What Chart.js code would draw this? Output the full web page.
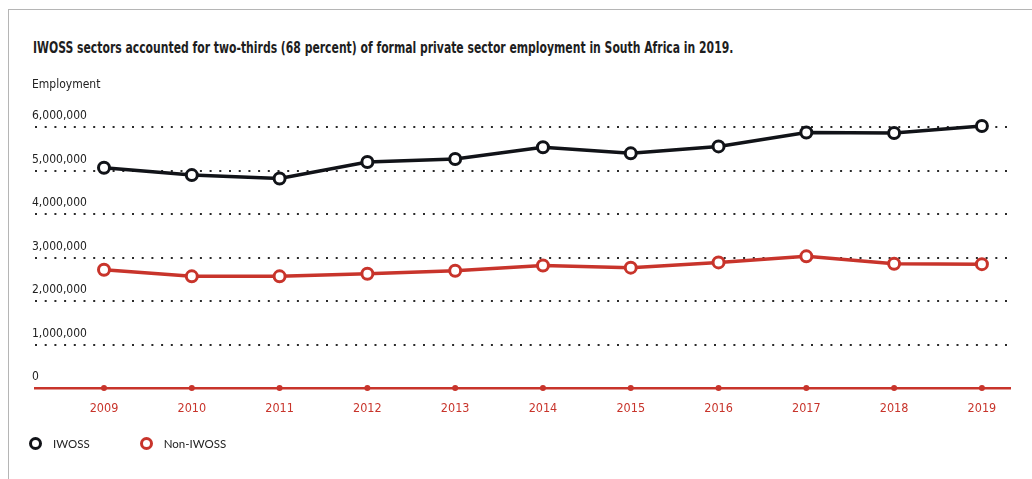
<!DOCTYPE html>
<html lang="en">
<head>
  <meta charset="UTF-8" />
  <title>IWOSS employment 2009-2019</title>
  <script src="https://cdn.jsdelivr.net/npm/chart.js"></script>
  <style>
    html, body { margin: 0; padding: 0; background: #fff; }
    body { width: 1032px; height: 479px; position: relative; overflow: hidden; }
    .frame { position: absolute; left: 8px; top: 9px; right: 0; bottom: 0;
             border-top: 1.5px solid #b5b5b5; border-left: 1.5px solid #b5b5b5; }
    #headline { position: absolute; left: 33px; top: 39px; margin: 0; white-space: nowrap;
                font: bold 15.5px/18px 'DejaVu Sans Condensed', sans-serif; color: #1e1e1e;
                transform-origin: 0 0; }
    #wrap { position: absolute; left: 0; top: 0; width: 1032px; height: 479px; }
    #legend { position: absolute; left: 29px; top: 437px; display: flex;
              font-family: 'Lato', 'Noto Sans', sans-serif; font-size: 11.5px; color: #222; }
    .item { display: flex; align-items: center; margin-right: 50px; }
    .dot { width: 7px; height: 7px; border-radius: 50%; border: 3px solid; background: #fff; margin-right: 11px; }
  </style>
</head>
<body>
  <div class="frame"></div>
  <h1 id="headline">IWOSS sectors accounted for two-thirds (68 percent) of formal private sector employment in South Africa in 2019.</h1>
  <div id="wrap"><canvas id="employmentChart"></canvas></div>
  <div id="legend"></div>

  <script>
    const years = [2009, 2010, 2011, 2012, 2013, 2014, 2015, 2016, 2017, 2018, 2019];
    const iwoss = [5070000, 4900000, 4820000, 5200000, 5270000, 5540000, 5400000, 5560000, 5880000, 5870000, 6030000];
    const nonIwoss = [2720000, 2570000, 2570000, 2630000, 2700000, 2820000, 2770000, 2890000, 3030000, 2860000, 2850000];
    const yTicks = [0, 1000000, 2000000, 3000000, 4000000, 5000000, 6000000];

    const black = '#111318';
    const red = '#c8342b';
    const condensed = "'DejaVu Sans Condensed', sans-serif";

    // squeeze the headline into a narrow, condensed run
    const headline = document.getElementById('headline');
    headline.style.transform = 'scaleX(' + (700 / headline.scrollWidth).toFixed(3) + ')';

    function series(values) {
      return values.map((v, i) => ({ x: years[i], y: v }));
    }

    // little red dots where each year sits on the axis line
    const axisDots = {
      id: 'axisDots',
      afterDatasetsDraw(chart) {
        const xs = chart.scales.x;
        const y0 = chart.scales.y.getPixelForValue(0);
        const ctx = chart.ctx;
        ctx.save();
        ctx.fillStyle = red;
        years.forEach(yr => {
          ctx.beginPath();
          ctx.arc(xs.getPixelForValue(yr), y0, 3, 0, Math.PI * 2);
          ctx.fill();
        });
        ctx.restore();
      }
    };

    const ctx = document.getElementById('employmentChart').getContext('2d');
    const chart = new Chart(ctx, {
      type: 'line',
      data: {
        datasets: [
          { label: 'IWOSS', data: series(iwoss), borderColor: black },
          { label: 'Non-IWOSS', data: series(nonIwoss), borderColor: red }
        ]
      },
      options: {
        responsive: true,
        maintainAspectRatio: false,
        animation: false,
        layout: { padding: { left: 32, right: 22, top: 0, bottom: 50 } },
        elements: {
          line: { borderWidth: 3.5, tension: 0 },
          point: { radius: 5.5, borderWidth: 3, backgroundColor: '#fff', hoverRadius: 5.5 }
        },
        datasets: {
          line: {
            pointBorderColor: c => c.dataset.borderColor,
            pointBackgroundColor: '#fff',
            clip: false
          }
        },
        plugins: {
          legend: { display: false },
          tooltip: { enabled: false },
          subtitle: {
            display: true,
            text: 'Employment',
            align: 'start',
            color: '#222',
            font: { family: condensed, size: 12 },
            padding: { top: 78, bottom: 17.5 }
          }
        },
        scales: {
          x: {
            type: 'linear',
            min: 2008.214,
            max: 2019.32,
            afterBuildTicks: axis => { axis.ticks = years.map(v => ({ value: v })); },
            grid: { display: false, drawTicks: false },
            border: { display: true, color: red, width: 2.5 },
            ticks: {
              color: red,
              padding: 13,
              font: { family: condensed, size: 12.5 },
              callback: v => String(v)
            }
          },
          y: {
            min: 0,
            max: 6400000,
            afterBuildTicks: axis => { axis.ticks = yTicks.map(v => ({ value: v })); },
            afterFit: axis => { axis.width = 3; },
            grid: {
              drawTicks: false,
              lineWidth: 2,
              color: c => c.tick && c.tick.value === 0 ? 'rgba(0,0,0,0)' : '#2a2a2a'
            },
            border: { display: false, dash: [2, 7.7] },
            ticks: {
              mirror: true,
              padding: -3,
              labelOffset: -11,
              color: '#222',
              font: { family: condensed, size: 12 },
              callback: v => v.toLocaleString('en-US')
            }
          }
        }
      },
      plugins: [axisDots]
    });

    // legend built from the datasets
    const legend = document.getElementById('legend');
    chart.data.datasets.forEach(ds => {
      const item = document.createElement('div');
      item.className = 'item';
      const dot = document.createElement('span');
      dot.className = 'dot';
      dot.style.borderColor = ds.borderColor;
      const label = document.createElement('span');
      label.textContent = ds.label;
      item.appendChild(dot);
      item.appendChild(label);
      legend.appendChild(item);
    });
  </script>
</body>
</html>
